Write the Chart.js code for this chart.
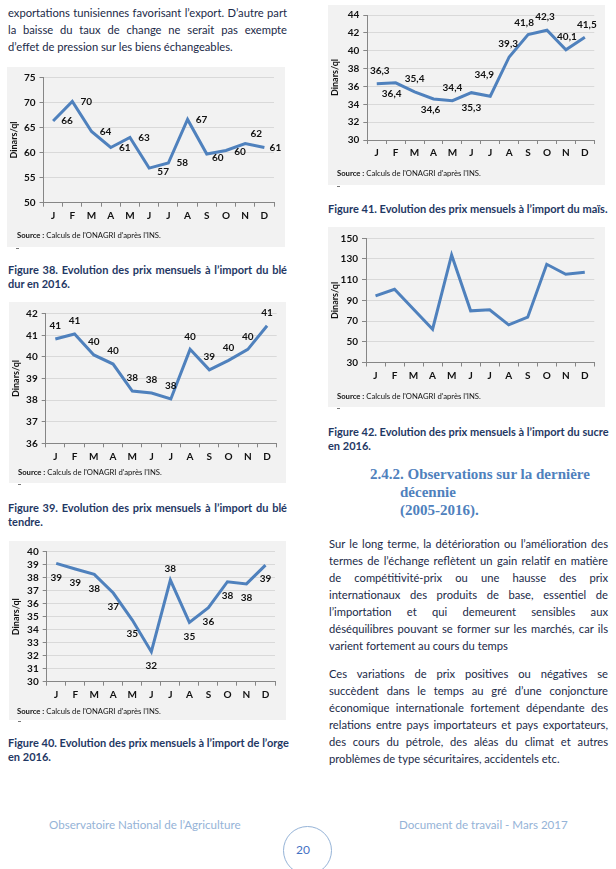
<!DOCTYPE html>
<html>
<head>
<meta charset="utf-8">
<script src="https://cdn.jsdelivr.net/npm/chart.js@4.4.1/dist/chart.umd.min.js"></script>
<style>
  body { margin: 0; width: 616px; height: 869px; position: relative; background: #fff; font-family: Lato, sans-serif; overflow: hidden; }
  .ln { position: absolute; white-space: nowrap; text-align: justify; text-align-last: justify; font-size: 11.2px; color: #1b2a48; line-height: 17px; height: 17px; }
  .ln.last { text-align-last: left; }
  .cap { font-weight: bold; font-size: 11px; color: #1f3864; line-height: 14px; height: 14px; }
  .head { font-family: "Liberation Serif", serif; font-weight: bold; font-size: 15px; color: #4f81bd; line-height: 18px; height: 18px; text-align: left; text-align-last: left; }
  .panel { position: absolute; background: #f2f2f2; }
  .panel canvas { position: absolute; left: 0; top: 0; }
  .src { position: absolute; font-size: 7.7px; color: #111; white-space: nowrap; line-height: 12px; }
  .dash { position: absolute; width: 3px; height: 1px; background: #777; }
  .foot { position: absolute; font-size: 11.6px; color: #95b3d7; white-space: nowrap; line-height: 16px; }
  .circle { position: absolute; border: 1.5px solid #95b3d7; border-radius: 50%; }
</style>
</head>
<body>
<div id="page"></div>
<script>
const months = ['J', 'F', 'M', 'A', 'M', 'J', 'J', 'A', 'S', 'O', 'N', 'D'];

// prix mensuels à l'import (Dinars/ql), 2016
const bleDur    = [66.3, 70.2, 64.2, 61.0, 63.0, 56.9, 57.9, 66.6, 59.7, 60.4, 61.8, 61.0];
const bleTendre = [40.83, 41.06, 40.09, 39.67, 38.42, 38.33, 38.05, 40.35, 39.4, 39.84, 40.35, 41.44];
const orge      = [39.1, 38.67, 38.26, 36.82, 34.74, 32.31, 37.82, 34.56, 35.69, 37.69, 37.52, 38.97];
const mais      = [36.3, 36.4, 35.4, 34.6, 34.4, 35.3, 34.9, 39.3, 41.8, 42.3, 40.1, 41.5];
const sucre     = [94.3, 100.8, 81.5, 62.2, 133.9, 79.9, 80.9, 66.4, 73.8, 124.9, 115.3, 117.2];

const page = document.getElementById('page');

function addLines(x, y, w, lh, lines, cls, lastLeft = true) {
  lines.forEach((t, i) => {
    const d = document.createElement('div');
    d.className = 'ln ' + (cls || '') + (lastLeft && i === lines.length - 1 ? ' last' : '');
    d.style.left = x + 'px';
    d.style.top = (y + i * lh) + 'px';
    d.style.width = w + 'px';
    d.textContent = t;
    page.appendChild(d);
  });
}

// texte
addLines(8, 4, 279, 17, [
  'exportations tunisiennes favorisant l’export. D’autre part',
  'la baisse du taux de change ne serait pas exempte',
  'd’effet de pression sur les biens échangeables.'
]);
addLines(8, 263, 279, 14, ['Figure 38. Evolution des prix mensuels à l’import du blé', 'dur en 2016.'], 'cap');
addLines(8, 501, 279, 14, ['Figure 39. Evolution des prix mensuels à l’import du blé', 'tendre.'], 'cap');
addLines(8, 736, 279, 14, ['Figure 40. Evolution des prix mensuels à l’import de l’orge', 'en 2016.'], 'cap');
addLines(328, 202, 276, 14, ['Figure 41. Evolution des prix mensuels à l’import du maïs.'], 'cap');
addLines(328, 425, 279, 14, ['Figure 42. Evolution des prix mensuels à l’import du sucre', 'en 2016.'], 'cap');

addLines(370, 465, 240, 18, ['2.4.2.  Observations sur la dernière'], 'head');
addLines(400, 483, 200, 18, ['décennie', '(2005-2016).'], 'head');

addLines(329, 535, 279, 17, [
  'Sur le long terme, la détérioration ou l’amélioration des',
  'termes de l’échange reflètent un gain relatif en matière',
  'de compétitivité-prix ou une  hausse des prix',
  'internationaux des produits de base, essentiel de',
  'l’importation et qui demeurent sensibles aux',
  'déséquilibres pouvant se former sur les marchés, car ils',
  'varient fortement au cours du temps'
]);
addLines(329, 665, 279, 17, [
  'Ces variations de prix positives ou négatives se',
  'succèdent dans le temps au gré d’une conjoncture',
  'économique internationale fortement dépendante  des',
  'relations entre pays importateurs et pays exportateurs,',
  'des cours du pétrole, des aléas du climat et autres',
  'problèmes de type sécuritaires, accidentels etc.'
]);

// pied de page
page.insertAdjacentHTML('beforeend', `
  <div class="foot" style="left:49px;top:817px">Observatoire National de l’Agriculture</div>
  <div class="foot" style="left:399px;top:817px">Document de travail - Mars 2017</div>
  <div class="circle" style="left:283px;top:826px;width:47px;height:47px"></div>
  <div class="foot" style="left:296px;top:842px;color:#4472c4;font-size:12px">20</div>
`);

const valueLabels = {
  id: 'valueLabels',
  afterDatasetsDraw(chart) {
    const ds = chart.data.datasets[0];
    if (!ds.labelOffsets) return;
    const ctx = chart.ctx;
    const meta = chart.getDatasetMeta(0);
    ctx.save();
    ctx.font = 'bold 10px Lato';
    ctx.fillStyle = '#111';
    ctx.textAlign = 'center';
    ctx.textBaseline = 'middle';
    meta.data.forEach((pt, i) => {
      const [dx, dy] = ds.labelOffsets[i];
      const v = ds.data[i];
      const txt = ds.decimals ? v.toFixed(ds.decimals).replace('.', ',') : String(Math.round(v));
      ctx.fillText(txt, pt.x + dx, pt.y + dy);
    });
    ctx.restore();
  }
};

function makeChart(panel, plot, data, yMin, yMax, step, labelOffsets, decimals) {
  const div = document.createElement('div');
  div.className = 'panel';
  Object.assign(div.style, { left: panel.x + 'px', top: panel.y + 'px', width: panel.w + 'px', height: panel.h + 'px' });
  const canvas = document.createElement('canvas');
  canvas.width = panel.w; canvas.height = panel.h;
  canvas.style.width = panel.w + 'px'; canvas.style.height = panel.h + 'px';
  div.appendChild(canvas);
  div.insertAdjacentHTML('beforeend',
    `<div class="src" style="left:${plot.srcX}px;top:${plot.srcY - 6}px"><b>Source :</b> Calculs de l'ONAGRI d'après l'INS.</div>`);
  page.appendChild(div);
  page.insertAdjacentHTML('beforeend', `<div class="dash" style="left:${panel.x + 9}px;top:${panel.y + panel.h + 1}px"></div>`);

  const tickFont = { family: 'Lato', weight: 'bold', size: 10 };
  new Chart(canvas, {
    type: 'line',
    data: {
      labels: months,
      datasets: [{
        data: data,
        borderColor: '#4f81bd',
        borderWidth: 3,
        pointRadius: 0,
        tension: 0,
        labelOffsets: labelOffsets,
        decimals: decimals
      }]
    },
    options: {
      responsive: false,
      animation: false,
      layout: { padding: { top: plot.top, right: panel.w - plot.right, left: 0, bottom: 0 } },
      plugins: { legend: { display: false }, tooltip: { enabled: false } },
      scales: {
        x: {
          offset: true,
          grid: { offset: true, drawOnChartArea: false, tickLength: 4, color: '#868686' },
          border: { color: '#868686' },
          ticks: { font: tickFont, color: '#111', padding: 3, maxRotation: 0, autoSkip: false },
          afterFit: s => { s.height = panel.h - plot.bottom; }
        },
        y: {
          min: yMin, max: yMax,
          ticks: { stepSize: step, font: tickFont, color: '#111', padding: 4, autoSkip: false },
          grid: { color: '#d9d9d9', tickColor: '#868686', tickLength: 4 },
          border: { color: '#868686' },
          title: { display: true, text: 'Dinars/ql', font: { family: 'Lato', weight: 'bold', size: 9 }, color: '#111', padding: { top: 2, bottom: 0 } },
          afterFit: s => { s.width = plot.left; }
        }
      }
    },
    plugins: [valueLabels]
  });
}

const R = [14, 0];
makeChart({ x: 7, y: 67, w: 278, h: 180 }, { left: 36.5, top: 10.3, right: 267, bottom: 135.7, srcX: 10, srcY: 168 },
  bleDur, 50, 75, 5, [R, R, R, R, R, [14, 4], R, R, [11, 4], [14, 1], [11, -10], [11, 0]], 0);

const U = [0, -13];
makeChart({ x: 9, y: 302, w: 277, h: 181 }, { left: 36.7, top: 11.7, right: 267.7, bottom: 141.3, srcX: 9, srcY: 169.7 },
  bleTendre, 36, 42, 1, [U, U, U, U, U, U, U, U, U, U, U, U], 0);

const B = [0, 14];
makeChart({ x: 9, y: 541, w: 277, h: 179 }, { left: 37.7, top: 10.7, right: 266, bottom: 140.7, srcX: 8, srcY: 169.7 },
  orge, 30, 40, 1, [B, B, B, B, B, B, [0, -11], B, B, B, B, B], 0);

makeChart({ x: 328, y: 5, w: 277, h: 180 }, { left: 39.3, top: 10, right: 266.3, bottom: 135, srcX: 9, srcY: 167.7 },
  mais, 30, 44, 2,
  [[3, -13], [-4, 11], [0, -13], [-3, 11], [0, -13], [0, 15], [-6, -21], [-1, -13], [-4, -12], [-2, -13], [1, -13], [2, -13]], 1);

makeChart({ x: 328, y: 227, w: 277, h: 180 }, { left: 38, top: 11.3, right: 266.3, bottom: 135.5, srcX: 9, srcY: 169 },
  sucre, 30, 150, 20, null, 0);
</script>
</body>
</html>
